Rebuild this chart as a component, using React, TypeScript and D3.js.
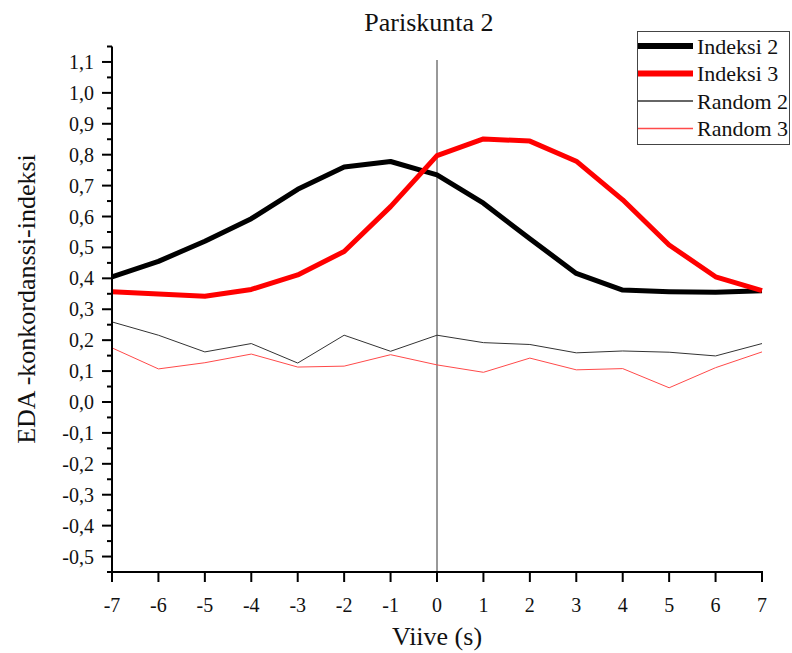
import React from 'react';
import * as d3 from 'd3';

// viive (s)
const lags = [-7, -6, -5, -4, -3, -2, -1, 0, 1, 2, 3, 4, 5, 6, 7];

// series values
const indeksi2 = [0.405, 0.455, 0.52, 0.593, 0.688, 0.76, 0.778, 0.735, 0.643, 0.528, 0.416, 0.362, 0.357, 0.355, 0.36];
const indeksi3 = [0.357, 0.349, 0.342, 0.364, 0.411, 0.487, 0.632, 0.797, 0.851, 0.844, 0.779, 0.654, 0.508, 0.405, 0.36];
const random2 = [0.259, 0.216, 0.162, 0.189, 0.126, 0.216, 0.164, 0.216, 0.192, 0.186, 0.159, 0.165, 0.161, 0.149, 0.189];
const random3 = [0.175, 0.107, 0.127, 0.155, 0.113, 0.116, 0.153, 0.12, 0.096, 0.142, 0.104, 0.108, 0.046, 0.111, 0.162];

const yTicks = [-0.5, -0.4, -0.3, -0.2, -0.1, 0, 0.1, 0.2, 0.3, 0.4, 0.5, 0.6, 0.7, 0.8, 0.9, 1.0, 1.1];
const yMinorTicks = [-0.55, -0.45, -0.35, -0.25, -0.15, -0.05, 0.05, 0.15, 0.25, 0.35, 0.45, 0.55, 0.65, 0.75, 0.85, 0.95, 1.05, 1.15];

const seriesNames = ['Indeksi 2', 'Indeksi 3', 'Random 2', 'Random 3'];

const W = 792;
const H = 653;
const FONT = "'Liberation Serif', 'DejaVu Serif', serif";

const x = d3.scaleLinear().domain([-7, 7]).range([112, 762]);
const y = d3.scaleLinear().domain([-0.55, 1.15]).range([572, 46.5]);

const fmt = (v: number) => {
  const s = (Math.round(v * 10) / 10).toFixed(1).replace('.', ',');
  return s === '-0,0' ? '0,0' : s;
};

const txt = { fontFamily: FONT, fill: '#111' };

export default function App() {
  const line = d3.line<number>()
    .x((d, i) => x(lags[i]))
    .y(d => y(d));

  const series = [
    { name: seriesNames[2], values: random2, color: '#333333', width: 1 },
    { name: seriesNames[3], values: random3, color: '#ff4a4a', width: 1 },
    { name: seriesNames[0], values: indeksi2, color: '#000000', width: 5 },
    { name: seriesNames[1], values: indeksi3, color: '#ff0000', width: 5 },
  ];
  const legendOrder = [series[2], series[3], series[0], series[1]];

  const [x0, x1] = x.range();
  const [yb, yt] = y.range();

  return (
    <svg width={W} height={H} style={{ position: 'absolute', left: 0, top: 0, background: '#fff' }}>
      {/* title */}
      <text x={429} y={31} textAnchor="middle" fontSize={26} style={txt}>Pariskunta 2</text>

      {/* zero lag line */}
      <line x1={x(0)} x2={x(0)} y1={60} y2={yb} stroke="#333" strokeWidth={1} />

      {/* data */}
      {series.map(s => (
        <path key={s.name} d={line(s.values) || ''} fill="none" stroke={s.color}
          strokeWidth={s.width} strokeLinejoin="round" />
      ))}

      {/* y axis */}
      <line x1={x0} x2={x0} y1={yt} y2={yb + 1} stroke="#000" strokeWidth={2} />
      {yTicks.map(t => (
        <g key={t} transform={`translate(0,${y(t)})`}>
          <line x1={x0 - 10} x2={x0} stroke="#000" strokeWidth={2} />
          <text x={x0 - 18} dy="0.35em" textAnchor="end" fontSize={20} style={txt}>{fmt(t)}</text>
        </g>
      ))}
      {yMinorTicks.map(t => (
        <line key={t} x1={x0 - 5} x2={x0} y1={y(t)} y2={y(t)} stroke="#000" strokeWidth={2} />
      ))}

      {/* x axis */}
      <line x1={x0 - 1} x2={x1 + 1} y1={yb} y2={yb} stroke="#000" strokeWidth={2} />
      {lags.map(t => (
        <g key={t} transform={`translate(${x(t)},0)`}>
          <line y1={yb} y2={yb + 10} stroke="#000" strokeWidth={2} />
          <text y={yb + 40} textAnchor="middle" fontSize={20} style={txt}>{t}</text>
        </g>
      ))}

      {/* axis titles */}
      <text x={437} y={645} textAnchor="middle" fontSize={26} style={txt}>Viive (s)</text>
      <text transform="translate(35,299) rotate(-90)" textAnchor="middle" fontSize={26} style={txt}>
        EDA -konkordanssi-indeksi
      </text>

      {/* legend */}
      <rect x={637.5} y={31.5} width={152} height={113} fill="#fff" stroke="#444" strokeWidth={1} />
      {legendOrder.map((s, i) => (
        <g key={s.name} transform={`translate(0,${46 + i * 27.5})`}>
          <line x1={638} x2={693} stroke={s.color} strokeWidth={s.width === 5 ? 6 : 1.5} />
          <text x={697} dy="0.35em" fontSize={22} style={txt}>{s.name}</text>
        </g>
      ))}
    </svg>
  );
}
